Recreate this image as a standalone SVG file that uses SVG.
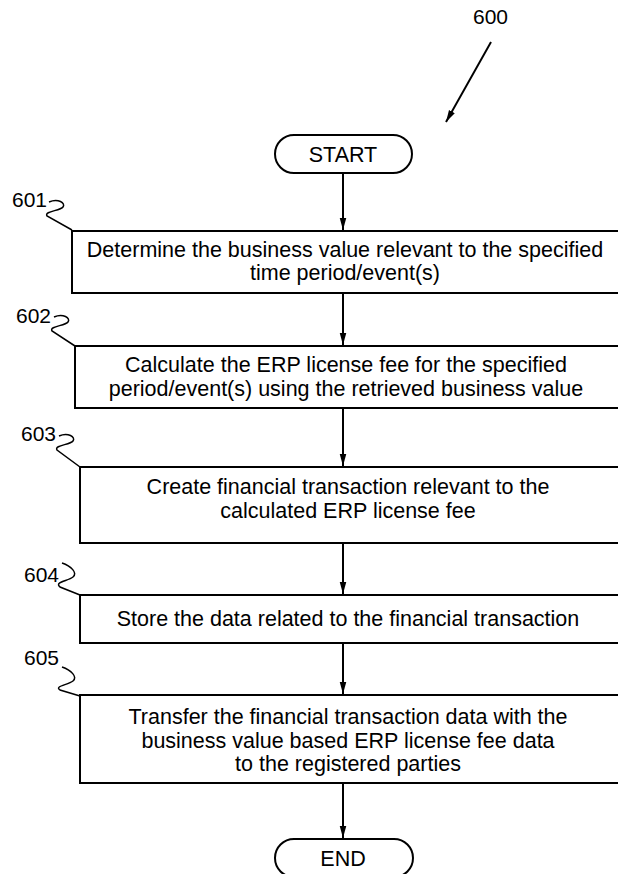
<svg xmlns="http://www.w3.org/2000/svg" width="618" height="874" viewBox="0 0 618 874">
<defs>
<marker id="ah" markerWidth="12" markerHeight="22" refX="22" refY="6" orient="auto" markerUnits="userSpaceOnUse" viewBox="0 0 22 12">
<path d="M0,0 L22,6 L0,12 Z" fill="#000"/>
</marker>
</defs>
<style>
text{font-family:"Liberation Sans",Arial,sans-serif;fill:#000}
.t{font-size:21.5px;text-anchor:middle}
.lbl{font-size:21px}
.box{fill:#fff;stroke:#000;stroke-width:2}
.sq{fill:none;stroke:#000;stroke-width:1.5}
.c{stroke:#000;stroke-width:2;fill:none}
</style>
<rect width="618" height="874" fill="#fff"/>
<g id="ref600">
<text x="473" y="24" class="lbl">600</text>
<line x1="491" y1="42" x2="446" y2="122" class="c" marker-end="url(#ah)"/>
</g>
<g id="start">
<rect x="275" y="135" width="137" height="38" rx="19" class="box"/>
<text x="343" y="162" class="t">START</text>
</g>
<g id="n601">
<text x="12" y="207" class="lbl">601</text>
<path d="M49,202 C58,198 66,203 63,207 C60,211 44,211 47,216 L72,230" class="sq"/>
<rect x="72" y="231" width="560" height="62" class="box"/>
<text x="345" y="257" class="t">Determine the business value relevant to the specified</text>
<text x="345" y="280" class="t">time period/event(s)</text>
</g>
<g id="n602">
<text x="16" y="323" class="lbl">602</text>
<path d="M54,317 C63,313 71,318 68,322 C65,326 49,326 52,331 L75,346" class="sq"/>
<rect x="75" y="346" width="560" height="62" class="box"/>
<text x="346" y="372" class="t">Calculate the ERP license fee for the specified</text>
<text x="346" y="396" class="t">period/event(s) using the retrieved business value</text>
</g>
<g id="n603">
<text x="21" y="441" class="lbl">603</text>
<path d="M59,436 C68,432 76,437 73,441 C70,445 54,445 57,450 L80,467" class="sq"/>
<rect x="80" y="467" width="560" height="76" class="box"/>
<text x="348" y="494" class="t">Create financial transaction relevant to the</text>
<text x="348" y="518" class="t">calculated ERP license fee</text>
</g>
<g id="n604">
<text x="24" y="582" class="lbl">604</text>
<path d="M62,563 C71,566 78,573 73,577 C68,581 54,582 60,587 L80,595" class="sq"/>
<rect x="80" y="595" width="560" height="48" class="box"/>
<text x="348" y="626" class="t">Store the data related to the financial transaction</text>
</g>
<g id="n605">
<text x="24" y="665" class="lbl">605</text>
<path d="M62,667 C71,670 78,677 73,681 C68,685 54,686 60,690 L80,696" class="sq"/>
<rect x="80" y="695" width="560" height="88" class="box"/>
<text x="348" y="724" class="t">Transfer the financial transaction data with the</text>
<text x="348" y="748" class="t">business value based ERP license fee data</text>
<text x="348" y="771" class="t">to the registered parties</text>
</g>
<g id="end">
<rect x="275" y="839" width="138" height="38" rx="19" class="box"/>
<text x="343" y="866" class="t">END</text>
</g>
<g id="connectors">
<line x1="343" y1="173" x2="343" y2="230" class="c" marker-end="url(#ah)"/>
<line x1="343" y1="293" x2="343" y2="345" class="c" marker-end="url(#ah)"/>
<line x1="343" y1="408" x2="343" y2="466" class="c" marker-end="url(#ah)"/>
<line x1="343" y1="543" x2="343" y2="594" class="c" marker-end="url(#ah)"/>
<line x1="343" y1="643" x2="343" y2="694" class="c" marker-end="url(#ah)"/>
<line x1="343" y1="783" x2="343" y2="838" class="c" marker-end="url(#ah)"/>
</g>
</svg>
